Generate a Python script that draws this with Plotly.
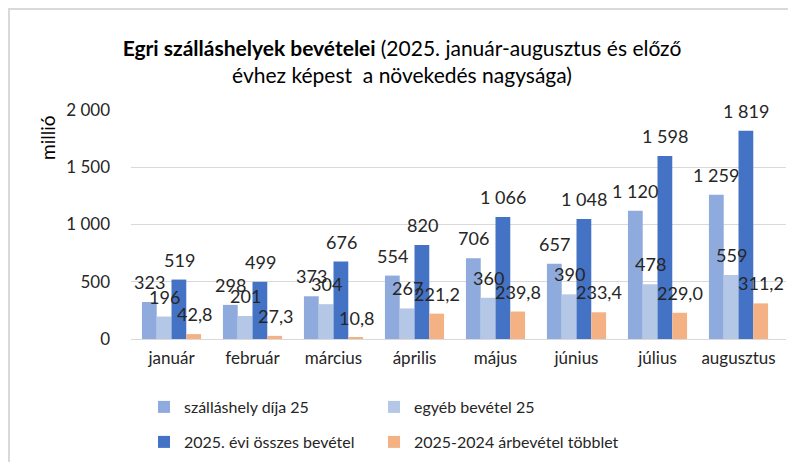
import plotly.graph_objects as go

months = ["január", "február", "március", "április", "május", "június", "július", "augusztus"]
szallas_dija = [323, 298, 373, 554, 706, 657, 1120, 1259]
egyeb_bevetel = [196, 201, 304, 267, 360, 390, 478, 559]
osszes_bevetel = [519, 499, 676, 820, 1066, 1048, 1598, 1819]
tobblet = [42.8, 27.3, 10.8, 221.2, 239.8, 233.4, 229.0, 311.2]

series_names = ["szálláshely díja 25", "egyéb bevétel 25",
                "2025. évi összes bevétel", "2025-2024 árbevétel többlet"]
series_values = [szallas_dija, egyeb_bevetel, osszes_bevetel, tobblet]
series_colors = ["#8FAADC", "#B4C7E7", "#4472C4", "#F4B183"]
series_decimals = [0, 0, 0, 1]
legend_ids = ["legend", "legend2", "legend3", "legend4"]

FONT = "Lato"
TXT = "#262626"

# page offset (browser body margin) compensation
OFF = 8
W, H = 796 - OFF, 462 - OFF


def fmt(v, d):
    s = f"{v:,.{d}f}"
    return s.replace(",", " ").replace(".", ",")


fig = go.Figure()
for name, vals, col, lg in zip(series_names, series_values, series_colors, legend_ids):
    fig.add_trace(go.Bar(x=months, y=vals, name=name, marker=dict(color=col, line=dict(width=0)),
                         legend=lg, showlegend=True))

# plot area in screen px: x 131..786, y 110..339
L = 131 - OFF
R = W - (786 - OFF)
T = 110 - OFF
B = H - (339 - OFF)
pw, ph = W - L - R, H - T - B


def px2x(px):
    return (px - OFF - L) / pw


def px2y(py):
    return (H - B - (py - OFF)) / ph


annotations = []
offsets = [-22.5, -7.5, 7.5, 22.5]
for vals, dec, off in zip(series_values, series_decimals, offsets):
    for m, v in zip(months, vals):
        annotations.append(dict(x=m, y=v, xref="x", yref="y", text=fmt(v, dec), showarrow=False,
                                xshift=off, yshift=20, yanchor="middle", xanchor="center",
                                font=dict(family=FONT, size=18, color=TXT)))

annotations.append(dict(text="millió", textangle=-90, xref="paper", yref="paper",
                        x=px2x(47), y=px2y(138), showarrow=False, xanchor="center", yanchor="middle",
                        font=dict(family=FONT, size=19, color="#000000")))

shapes = [
    dict(type="line", xref="paper", yref="paper", x0=px2x(8), x1=px2x(800), y0=px2y(9), y1=px2y(9),
         line=dict(color="#D9D9D9", width=2)),
    dict(type="line", xref="paper", yref="paper", x0=px2x(9), x1=px2x(9), y0=px2y(8), y1=px2y(470),
         line=dict(color="#D9D9D9", width=2)),
]

legend_pos = [(144, 407), (374, 407), (144, 442), (374, 442)]
legend_cfg = {}
for lg, (lx, ly) in zip(legend_ids, legend_pos):
    legend_cfg[lg] = dict(orientation="h", x=px2x(lx), y=px2y(ly), xanchor="left", yanchor="middle",
                          font=dict(size=16, color=TXT), bgcolor="rgba(0,0,0,0)", visible=True)

fig.update_layout(
    width=W, height=H,
    showlegend=True,
    margin=dict(l=L, r=R, t=T, b=B, autoexpand=False),
    paper_bgcolor="white", plot_bgcolor="white",
    separators=", ",
    barmode="group", bargap=0.27, bargroupgap=0,
    title=dict(text="<b>Egri szálláshelyek bevételei </b>(2025. január-augusztus és előző<br>évhez képest  a növekedés nagysága)",
               x=(402 - OFF) / W, xanchor="center", y=1 - (56 - OFF) / H, yanchor="middle",
               font=dict(family=FONT, size=21, color="#000000")),
    font=dict(family=FONT, size=17, color=TXT),
    xaxis=dict(showgrid=False, showline=False, ticks="", tickfont=dict(size=17, color=TXT),
               ticklabelstandoff=7),
    yaxis=dict(range=[0, 2000], dtick=500, separatethousands=True, showgrid=True,
               gridcolor="#D9D9D9", gridwidth=1, zeroline=True, zerolinecolor="#D9D9D9",
               zerolinewidth=1, ticks="", tickfont=dict(size=17, color=TXT), ticklabelstandoff=20),
    annotations=annotations,
    shapes=shapes,
    **legend_cfg,
)

fig.write_html("out.html")
